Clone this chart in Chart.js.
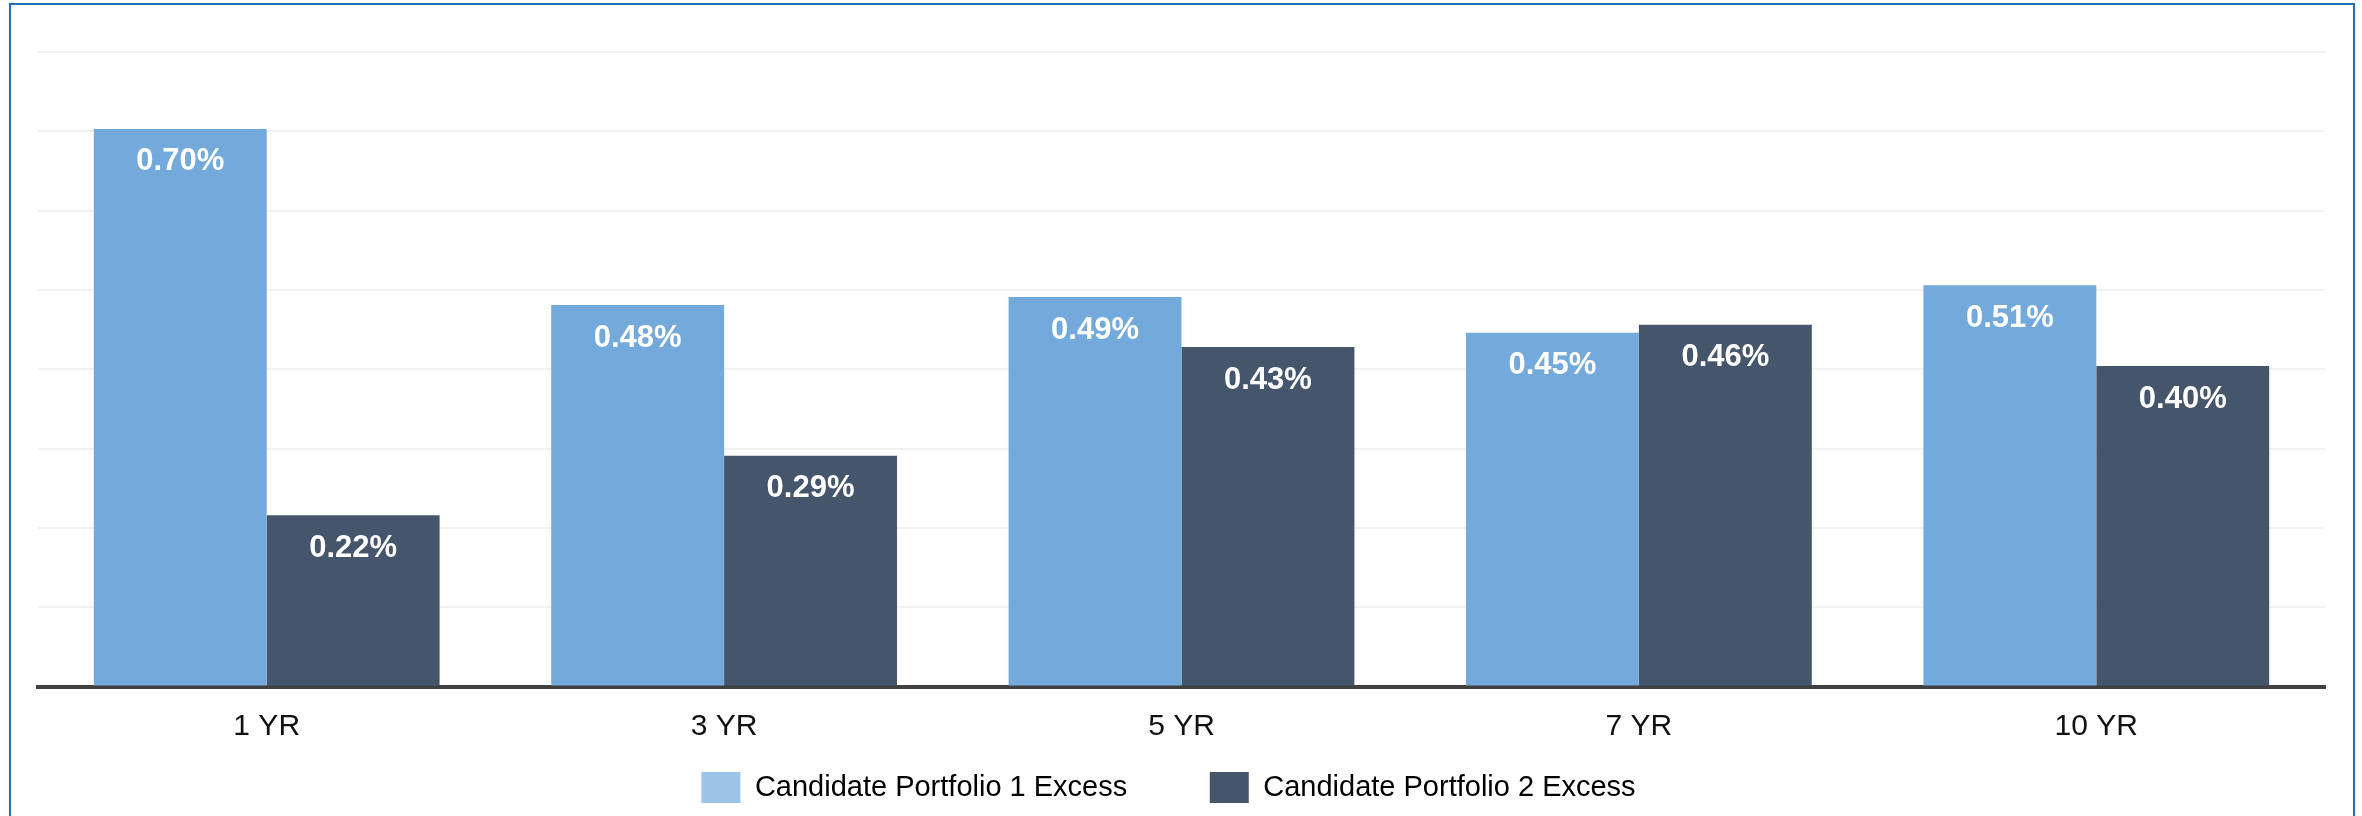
<!DOCTYPE html>
<html>
<head>
<meta charset="utf-8">
<title>Candidate Portfolio Excess</title>
<script src="https://cdn.jsdelivr.net/npm/chart.js@4.4.1/dist/chart.umd.min.js"></script>
<style>
  html, body { margin: 0; padding: 0; background: #fff; overflow: hidden; }
  #frame { position: absolute; left: 9px; top: 3px; width: 2342px; height: 900px; border: 2px solid #2270b2; }
  #chart { position: absolute; left: 0; top: 0; }
</style>
</head>
<body>
<div id="frame"></div>
<canvas id="chart" width="2362" height="816"></canvas>
<script>
// data
const periods = ["1 YR", "3 YR", "5 YR", "7 YR", "10 YR"];
const seriesNames = ["Candidate Portfolio 1 Excess", "Candidate Portfolio 2 Excess"];
const portfolio1Excess = [0.703, 0.481, 0.491, 0.446, 0.506];
const portfolio2Excess = [0.216, 0.291, 0.428, 0.456, 0.404];
const yMin = 0;
const yMax = 0.8;
const yStep = 0.1;

const barColors = ["#74a9db", "#45556c"];
const legendColors = ["#9dc3e6", "#45556c"];
const fontFamily = "'Liberation Sans', Arial, Helvetica, sans-serif";

// white value labels inside the top of each bar
const barLabels = {
  id: "barLabels",
  afterDatasetsDraw(chart) {
    const ctx = chart.ctx;
    ctx.save();
    ctx.font = "bold 31px " + fontFamily;
    ctx.fillStyle = "#ffffff";
    ctx.textAlign = "center";
    ctx.textBaseline = "middle";
    chart.data.datasets.forEach((ds, i) => {
      chart.getDatasetMeta(i).data.forEach((bar, j) => {
        ctx.fillText(ds.data[j].toFixed(2) + "%", bar.x, bar.y + 33);
      });
    });
    ctx.restore();
  }
};

// the legend's wide item gap (padding) would push everything around,
// so it is kept short in layout and placed just under the axis here
const legendPlace = {
  id: "legendPlace",
  afterLayout(chart) {
    const legend = chart.legend;
    legend.top = chart.chartArea.bottom + 3;
    legend.bottom = chart.height;
    legend.height = legend.bottom - legend.top;
    legend.left -= 13;
    legend.right -= 13;
  }
};

const ctx = document.getElementById("chart").getContext("2d");
const chart = new Chart(ctx, {
  type: "bar",
  data: {
    labels: periods,
    datasets: [
      {
        label: seriesNames[0],
        data: portfolio1Excess,
        backgroundColor: barColors[0],
        borderWidth: 0,
      },
      {
        label: seriesNames[1],
        data: portfolio2Excess,
        backgroundColor: barColors[1],
        borderWidth: 0,
      },
    ],
  },
  options: {
    responsive: false,
    animation: false,
    datasets: {
      bar: { categoryPercentage: 0.756, barPercentage: 1 },
    },
    layout: {
      padding: { left: 38, right: 37, top: 52, bottom: 3 },
    },
    scales: {
      x: {
        grid: { display: false },
        border: { display: true, color: "#404040", width: 4 },
        ticks: {
          color: "#111111",
          padding: 14,
          font: { family: fontFamily, size: 30 },
        },
        afterFit(scale) {
          scale.height = 86.5;
        },
      },
      y: {
        min: yMin,
        max: yMax,
        ticks: { display: false, stepSize: yStep },
        grid: { color: "#f1f1f1", lineWidth: 2, drawTicks: false },
        border: { display: false },
        afterFit(scale) {
          scale.width = 0;
        },
      },
    },
    plugins: {
      tooltip: { enabled: false },
      legend: {
        position: "bottom",
        maxHeight: 40,
        labels: {
          boxWidth: 39,
          boxHeight: 31,
          padding: 82.5,
          color: "#111111",
          font: { family: fontFamily, size: 29 },
          generateLabels(chart) {
            return chart.data.datasets.map((ds, i) => ({
              text: ds.label,
              fillStyle: legendColors[i],
              strokeStyle: legendColors[i],
              lineWidth: 0,
              hidden: false,
              datasetIndex: i,
            }));
          },
        },
      },
    },
  },
  plugins: [barLabels, legendPlace],
});
</script>
</body>
</html>
